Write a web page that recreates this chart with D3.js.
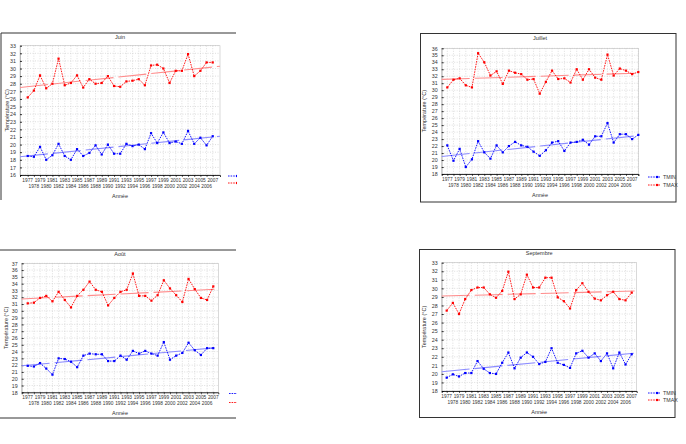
<!DOCTYPE html>
<html>
<head>
<meta charset="utf-8">
<script src="https://cdn.jsdelivr.net/npm/d3@7"></script>
<style>
  body { margin: 0; background: #fff; }
  svg { display: block; }
  text { font-family: "Liberation Sans", Arial, sans-serif; fill: #333; }
</style>
</head>
<body>
<svg id="chart" width="686" height="444"></svg>
<script>
// years on the x axis
const years = [1977, 1978, 1979, 1980, 1981, 1982, 1983, 1984, 1985, 1986, 1987, 1988, 1989, 1990, 1991, 1992,
  1993, 1994, 1995, 1996, 1997, 1998, 1999, 2000, 2001, 2002, 2003, 2004, 2005, 2006, 2007];
const yearsJuillet = years.concat([2008]);

// Juin
const juinTmax = [26.2, 27.1, 29.1, 27.4, 28.0, 31.3, 27.8, 28.1, 29.1, 27.5, 28.6, 28.0, 28.1, 29.0, 27.7, 27.6,
  28.3, 28.4, 28.6, 27.8, 30.4, 30.5, 30.0, 28.1, 29.7, 29.7, 31.9, 29.0, 29.7, 30.8, 30.8];
const juinTmin = [18.5, 18.4, 19.7, 18.0, 18.6, 20.1, 18.5, 18.0, 19.4, 18.5, 18.9, 19.9, 18.7, 20.0, 18.8, 18.8,
  20.1, 19.8, 20.0, 19.4, 21.5, 20.2, 21.6, 20.2, 20.4, 20.1, 21.8, 20.1, 20.9, 19.9, 21.1];
const juinTrendMax = [27.5, 30.3];
const juinTrendMin = [18.4, 21.1];

// Juillet
const juilletTmax = [30.4, 31.5, 31.7, 30.7, 30.4, 35.3, 34.0, 32.1, 32.7, 30.9, 32.8, 32.5, 32.3, 31.5, 31.6, 29.5,
  31.2, 32.8, 31.6, 31.7, 31.1, 33.0, 31.5, 33.0, 31.8, 31.5, 35.1, 32.1, 33.1, 32.8, 32.3, 32.6];
const juilletTmin = [22.1, 19.9, 21.6, 19.0, 20.1, 22.7, 21.1, 20.2, 22.1, 21.1, 22.0, 22.6, 22.1, 21.9, 21.2, 20.6,
  21.4, 22.5, 22.7, 21.3, 22.5, 22.6, 22.9, 22.2, 23.4, 23.4, 25.3, 22.5, 23.7, 23.7, 23.0, 23.6];
const juilletTrendMax = [31.55, 32.45];
const juilletTrendMin = [20.5, 23.5];

// Août
const aoutTmax = [31.1, 31.2, 31.9, 32.2, 31.4, 32.8, 31.6, 30.5, 32.2, 33.1, 34.3, 33.1, 32.8, 30.8, 31.9, 32.8,
  33.1, 35.5, 32.2, 32.2, 31.5, 32.3, 34.5, 33.3, 32.3, 31.3, 34.7, 33.2, 31.9, 31.6, 33.6];
const aoutTmin = [21.9, 21.8, 22.3, 21.5, 20.6, 23.0, 22.9, 22.5, 21.7, 23.4, 23.7, 23.6, 23.6, 22.6, 22.6, 23.4,
  22.8, 24.1, 23.7, 24.1, 23.7, 23.4, 25.4, 22.8, 23.4, 23.8, 25.3, 24.2, 23.5, 24.5, 24.5];
const aoutTrendMax = [31.75, 33.2];
const aoutTrendMin = [21.9, 24.6];

// Septembre
const septTmax = [27.4, 28.3, 27.0, 28.75, 29.8, 30.1, 30.1, 29.3, 28.9, 29.7, 31.95, 28.75, 29.3, 31.6, 30.1, 30.1,
  31.25, 31.25, 28.95, 28.5, 27.65, 29.8, 30.6, 29.6, 28.8, 28.6, 29.2, 29.6, 28.75, 28.6, 29.5];
const septTmin = [19.56, 19.95, 19.7, 20.1, 20.1, 21.5, 20.6, 20.1, 20.0, 21.3, 22.5, 20.65, 21.9, 22.5, 22.0, 21.15,
  21.4, 23.0, 21.3, 21.05, 20.7, 22.4, 22.7, 21.9, 22.4, 21.5, 22.4, 20.65, 22.5, 21.1, 22.3];
const septTrendMax = [29.1, 29.7];
const septTrendMin = [20.25, 22.45];

const series = ["TMIN", "TMAX"];
const colors = { TMIN: "#0000ff", TMAX: "#ff0000" };
const trendColors = { TMIN: "#8c8cff", TMAX: "#ff8c8c" };

// layout of the four panels
const panels = [
  { title: "Juin", years: years, tmin: juinTmin, tmax: juinTmax, trendMin: juinTrendMin, trendMax: juinTrendMax,
    x0: 20, x1: 220, y0: 45.7, y1: 175, yMin: 16, yMax: 33, xDomain: [1975.75, 2008.18],
    clip: [0, 0, 237, 222], frame: "tl", frameBox: [1, 33, 236, 200], legend: [228, 176, 7], yTitleX: 7, titleY: 38.5 },
  { title: "Juillet", years: yearsJuillet, tmin: juilletTmin, tmax: juilletTmax, trendMin: juilletTrendMin, trendMax: juilletTrendMax,
    x0: 441.7, x1: 638.3, y0: 48.3, y1: 174, yMin: 18, yMax: 36, xDomain: [1976.09, 2008],
    clip: null, frame: "box", frameBox: [420.5, 33.5, 676, 202], legend: [648, 177, 8], yTitleX: 424.5, titleY: 39.5 },
  { title: "Août", years: years, tmin: aoutTmin, tmax: aoutTmax, trendMin: aoutTrendMin, trendMax: aoutTrendMax,
    x0: 21.7, x1: 218.3, y0: 263.3, y1: 392.3, yMin: 18, yMax: 37, xDomain: [1976.03, 2007.81],
    clip: [0, 222, 237, 222], frame: "tb", frameBox: [0, 250, 236, 418], legend: [229, 393.5, 9], yTitleX: 6, titleY: 255.5 },
  { title: "Septembre", years: years, tmin: septTmin, tmax: septTmax, trendMin: septTrendMin, trendMax: septTrendMax,
    x0: 441.7, x1: 636.7, y0: 262.7, y1: 391, yMin: 18, yMax: 33, xDomain: [1976.19, 2007.81],
    clip: null, frame: "box", frameBox: [419.5, 249.5, 675, 417.5], legend: [648, 393, 7], yTitleX: 424, titleY: 254.5 }
];

const svg = d3.select("#chart");
const defs = svg.append("defs");

panels.forEach((p, pi) => {
  let g = svg.append("g");
  if (p.clip) {
    defs.append("clipPath").attr("id", "clip" + pi)
      .append("rect").attr("x", p.clip[0]).attr("y", p.clip[1]).attr("width", p.clip[2]).attr("height", p.clip[3]);
    g.attr("clip-path", `url(#clip${pi})`);
  }

  const [fx0, fy0, fx1, fy1] = p.frameBox;
  const frame = g.append("g").attr("stroke", "#333").attr("stroke-width", 1).attr("fill", "none");
  if (p.frame === "box") {
    frame.append("rect").attr("x", fx0).attr("y", fy0).attr("width", fx1 - fx0).attr("height", fy1 - fy0);
  } else if (p.frame === "tl") {
    frame.append("path").attr("d", `M${fx0},${fy1}V${fy0}H${fx1}`);
  } else {
    frame.append("path").attr("d", `M${fx0},${fy0}H${fx1}M${fx0},${fy1}H${fx1}`);
  }

  const x = d3.scaleLinear().domain(p.xDomain).range([p.x0, p.x1]);
  const y = d3.scaleLinear().domain([p.yMin, p.yMax]).range([p.y1, p.y0]);
  const yTicks = d3.range(p.yMin, p.yMax + 1);

  // grid
  const grid = g.append("g").attr("stroke", "#c8c8c8").attr("stroke-width", 0.6).attr("stroke-dasharray", "1,1.5");
  grid.selectAll(".h").data(yTicks).join("line")
    .attr("x1", p.x0).attr("x2", p.x1).attr("y1", d => y(d)).attr("y2", d => y(d));
  grid.selectAll(".v").data(p.years).join("line")
    .attr("y1", p.y0).attr("y2", p.y1).attr("x1", d => x(d)).attr("x2", d => x(d));

  g.append("rect").attr("x", p.x0).attr("y", p.y0).attr("width", p.x1 - p.x0).attr("height", p.y1 - p.y0)
    .attr("fill", "none").attr("stroke", "#c0c0c0").attr("stroke-width", 0.6);

  // axes
  const yAxis = g.append("g").attr("transform", `translate(${p.x0},0)`)
    .call(d3.axisLeft(y).tickValues(yTicks).tickSize(-2).tickPadding(4).tickFormat(d3.format("d")));
  yAxis.select(".domain").attr("stroke", "#999").attr("stroke-width", 0.6);
  yAxis.selectAll(".tick line").attr("stroke", "#000").attr("stroke-width", 0.8);
  yAxis.selectAll("text").attr("font-size", 5.3).attr("fill", "#444");

  const xAxis = g.append("g").attr("transform", `translate(0,${p.y1})`)
    .call(d3.axisBottom(x).tickValues(p.years).tickSize(2).tickFormat(""));
  xAxis.select(".domain").attr("stroke", "#000").attr("stroke-width", 0.8);
  xAxis.selectAll(".tick line").attr("stroke", "#000").attr("stroke-width", 0.6);

  // staggered year labels
  g.append("g").selectAll("text").data(years).join("text")
    .attr("x", d => x(d))
    .attr("y", (d, i) => p.y1 + (i % 2 === 0 ? 7 : 13))
    .attr("text-anchor", "middle").attr("font-size", 4.8).attr("fill", "#444")
    .text(d => d);

  g.append("text").attr("x", (p.x0 + p.x1) / 2).attr("y", p.y1 + 23)
    .attr("text-anchor", "middle").attr("font-size", 5.5).text("Année");
  g.append("text").attr("x", (p.x0 + p.x1) / 2).attr("y", p.titleY)
    .attr("text-anchor", "middle").attr("font-size", 5.5).text(p.title);
  g.append("text").attr("transform", `translate(${p.yTitleX},${(p.y0 + p.y1) / 2}) rotate(-90)`)
    .attr("text-anchor", "middle").attr("dy", "0.35em").attr("font-size", 5.5).text("Température (°C)");

  // trend lines
  series.forEach(s => {
    const t = s === "TMIN" ? p.trendMin : p.trendMax;
    g.append("line")
      .attr("x1", x(p.xDomain[0])).attr("x2", x(p.xDomain[1]))
      .attr("y1", y(t[0])).attr("y2", y(t[1]))
      .attr("stroke", trendColors[s]).attr("stroke-width", 1.1).attr("stroke-dasharray", "28,5");
  });

  // data series
  series.forEach(s => {
    const vals = s === "TMIN" ? p.tmin : p.tmax;
    const pts = p.years.map((yr, i) => [yr, vals[i]]);
    const line = d3.line().x(d => x(d[0])).y(d => y(d[1]));
    g.append("path").datum(pts).attr("d", line)
      .attr("fill", "none").attr("stroke", colors[s]).attr("stroke-width", 0.9).attr("stroke-dasharray", "1.6,1");
    g.append("g").selectAll("rect").data(pts).join("rect")
      .attr("x", d => x(d[0]) - 1.1).attr("y", d => y(d[1]) - 1.1)
      .attr("width", 2.2).attr("height", 2.2).attr("fill", colors[s]);
  });

  // legend
  const [lx, ly, lgap] = p.legend;
  series.forEach((s, i) => {
    const yy = ly + i * lgap;
    g.append("line").attr("x1", lx).attr("x2", lx + 12).attr("y1", yy).attr("y2", yy)
      .attr("stroke", colors[s]).attr("stroke-width", 0.9).attr("stroke-dasharray", "1.6,1");
    g.append("rect").attr("x", lx + 8).attr("y", yy - 1.1).attr("width", 2.2).attr("height", 2.2).attr("fill", colors[s]);
    g.append("text").attr("x", lx + 15).attr("y", yy).attr("dy", "0.35em")
      .attr("font-size", 5.3).text(s);
  });
});
</script>
</body>
</html>
